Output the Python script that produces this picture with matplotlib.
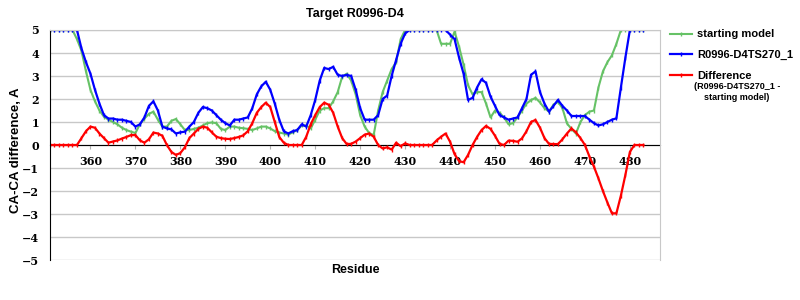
import numpy as np
import matplotlib
matplotlib.use("Agg")
import matplotlib.pyplot as plt
from matplotlib.lines import Line2D

# residues 351..483
residues = np.arange(351, 484)

start_model = [5, 5, 5, 5, 5, 5, 4.6, 4.1, 3.2, 2.4,
               1.9, 1.5, 1.23, 1.1, 1.0, 0.9, 0.75, 0.65, 0.58, 0.52,
               0.9, 1.15, 1.35, 1.45, 1.1, 0.8, 0.8, 1.05, 1.13, 0.9,
               0.65, 0.65, 0.7, 0.75, 0.85, 0.95, 0.98, 0.95, 0.7, 0.65,
               0.8, 0.8, 0.75, 0.73, 0.7, 0.65, 0.72, 0.8, 0.8, 0.72,
               0.6, 0.54, 0.5, 0.45, 0.55, 0.65, 0.85, 0.85, 0.72, 1.1,
               1.5, 1.6, 1.6, 1.9, 2.3, 2.97, 3.1, 2.8, 2.2, 1.3,
               0.8, 0.52, 0.43, 1.5, 2.3, 2.8, 3.3, 3.6, 4.6, 5,
               5, 5, 5, 5, 5, 5, 5, 4.4, 4.4, 4.4,
               4.93, 4.27, 3.5, 2.6, 2.2, 2.3, 2.3, 1.8, 1.2, 1.5,
               1.4, 1.2, 0.9, 0.95, 1.2, 1.5, 1.8, 1.95, 2.05, 1.85,
               1.6, 1.45, 1.75, 1.88, 1.6, 0.94, 0.7, 0.5, 1.0, 1.3,
               1.45, 1.5, 2.5, 3.2, 3.6, 3.9, 4.4, 5, 5, 5,
               5, 5, 5]

model_270 = [5, 5, 5, 5, 5, 5, 5, 4.2, 3.6, 3.1,
             2.4, 1.8, 1.3, 1.15, 1.15, 1.1, 1.1, 1.05, 1.0, 0.8,
             0.9, 1.2, 1.7, 1.9, 1.5, 0.8, 0.72, 0.68, 0.5, 0.55,
             0.58, 0.8, 1.0, 1.4, 1.65, 1.6, 1.5, 1.3, 1.1, 0.95,
             0.85, 1.1, 1.1, 1.15, 1.2, 1.6, 2.2, 2.55, 2.75, 2.4,
             1.8, 1.1, 0.6, 0.5, 0.6, 0.65, 0.9, 0.8, 1.3, 1.96,
             2.8, 3.35, 3.3, 3.4, 3.05, 3.0, 3.05, 3.0, 2.4, 1.6,
             1.1, 1.1, 1.1, 1.3, 2.0, 2.15, 3.0, 3.7, 4.4, 4.85,
             5, 5, 5, 5, 5, 5, 5, 5, 5, 4.8,
             4.6, 3.8, 3.1, 1.96, 2.05, 2.5, 2.86, 2.7, 2.1, 1.7,
             1.3, 1.2, 1.1, 1.15, 1.2, 1.6, 2.0, 3.05, 3.2, 2.3,
             1.8, 1.45, 1.7, 1.96, 1.7, 1.5, 1.26, 1.26, 1.26, 1.26,
             1.1, 0.95, 0.85, 0.9, 1.0, 1.1, 1.16, 2.5, 3.8, 5,
             5, 5, 5]

difference = [0, 0, 0, 0, 0, 0, 0, 0.3, 0.6, 0.8,
              0.75, 0.5, 0.3, 0.1, 0.15, 0.2, 0.28, 0.35, 0.43, 0.43,
              0.2, 0.1, 0.25, 0.54, 0.5, 0.4, 0.0, -0.3, -0.43, -0.35,
              -0.1, 0.3, 0.5, 0.7, 0.8, 0.75, 0.55, 0.36, 0.3, 0.27,
              0.26, 0.3, 0.35, 0.42, 0.6, 0.95, 1.4, 1.65, 1.84, 1.65,
              1.0, 0.35, 0.1, 0, 0, 0, 0, 0.36, 0.9, 1.3,
              1.65, 1.84, 1.75, 1.4, 0.8, 0.3, 0.04, 0.05, 0.15, 0.3,
              0.45, 0.5, 0.36, 0.0, -0.15, -0.1, -0.2, 0.1, -0.05, 0.07,
              0, 0, 0, 0, 0, 0, 0.2, 0.36, 0.5, 0.14,
              -0.4, -0.7, -0.75, -0.43, 0.0, 0.35, 0.65, 0.83, 0.7, 0.4,
              0.05, 0.0, 0.19, 0.18, 0.14, 0.29, 0.6, 1.0, 1.09, 0.75,
              0.3, 0.05, 0.04, 0.04, 0.25, 0.5, 0.72, 0.55, 0.3, 0.0,
              -0.5, -0.94, -1.45, -2.0, -2.5, -2.97, -2.97, -2.2, -1.3, -0.3,
              0, 0, 0]

GREEN = '#66c266'
BLUE = '#0000ff'
RED = '#ff0000'

sans = ['Liberation Sans', 'DejaVu Sans']
serif = ['DejaVu Serif']

fig = plt.figure(figsize=(8, 3), dpi=100)
ax = fig.add_axes([0.0625, 0.1333, 0.7625, 0.7667])

ax.plot(residues, start_model, color=GREEN, lw=1.5, marker='|', ms=3, mew=1)
ax.plot(residues, model_270, color=BLUE, lw=1.6, marker='|', ms=3, mew=1)
ax.plot(residues, difference, color=RED, lw=1.6, marker='|', ms=3, mew=1)

ax.set_xlim(351, 486.7)
ax.set_ylim(-5, 5)
ax.set_yticks(range(-5, 6))
ax.set_xticks(range(360, 481, 10))
ax.yaxis.grid(True, color='#c8c8c8', lw=1)
ax.set_axisbelow(True)

ax.spines['bottom'].set_position(('data', 0))
ax.spines['bottom'].set_color('black')
ax.spines['left'].set_color('black')
ax.spines['top'].set_color('#c8c8c8')
ax.spines['right'].set_color('#c8c8c8')
ax.spines['bottom'].set_zorder(1.5)
ax.tick_params(axis='x', direction='out', length=3, color='#b0b0b0', pad=5)
ax.tick_params(axis='y', length=0, pad=8)
for lbl in ax.get_xticklabels() + ax.get_yticklabels():
    lbl.set_family(serif)
    lbl.set_fontweight('bold')
    lbl.set_fontsize(8)

fig.text(0.444, 0.953, 'Target R0996-D4', ha='center', va='center',
         family=sans, fontweight='bold', fontsize=9)
fig.text(0.444, 0.1, 'Residue', ha='center', va='center',
         family=sans, fontweight='bold', fontsize=9)
fig.text(0.02, 0.5, 'CA-CA difference, A', ha='center', va='center',
         rotation=90, family=sans, fontweight='bold', fontsize=9.5)

handles = [Line2D([], [], color=GREEN, lw=1.5, marker='|', ms=3),
           Line2D([], [], color=BLUE, lw=1.6, marker='|', ms=3),
           Line2D([], [], color=RED, lw=1.6, marker='|', ms=3)]
labels = ['starting model', 'R0996-D4TS270_1', 'Difference']
leg = fig.legend(handles, labels, loc='upper left', bbox_to_anchor=(0.8375, 0.902),
                 frameon=False, handlelength=2.0, handletextpad=0.45,
                 labelspacing=0.97, borderaxespad=0, borderpad=0,
                 prop={'family': sans, 'weight': 'bold', 'size': 8})
fig.text(0.921, 0.727, '(R0996-D4TS270_1 -\nstarting model)', ha='center', va='top',
         family=sans, fontweight='bold', fontsize=6.5, linespacing=1.3)

fig.savefig('out.png', dpi=100)
